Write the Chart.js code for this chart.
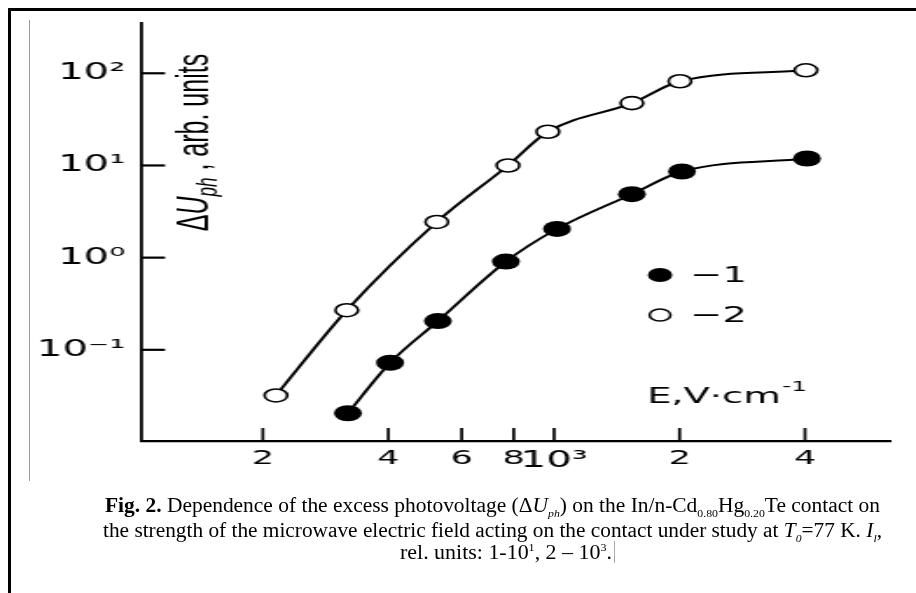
<!DOCTYPE html>
<html lang="en">
<head>
<meta charset="UTF-8">
<title>Fig. 2 - excess photovoltage vs microwave field</title>
<script src="https://cdn.jsdelivr.net/npm/chart.js"></script>
<style>
  html, body { margin: 0; padding: 0; background: #fff; overflow: hidden; }
  body { width: 916px; height: 593px; position: relative; }
  #frame { position: absolute; left: 8px; top: 8px; width: 1000px; height: 700px; border-left: 3px solid #000; border-top: 3px solid #000; }
  #rule { position: absolute; left: 29px; top: 20px; width: 1px; height: 461px; background: #9a9a9a; }
  #plot { position: absolute; left: 0; top: 0; transform: scaleX(1.748); transform-origin: 0 0; }
  .cap { position: absolute; white-space: nowrap; font-family: 'Liberation Serif', 'Times New Roman', serif; font-size: 20px; line-height: 22px; color: #000; transform-origin: 0 0; }
  .cap sub, .cap sup { font-size: 11px; line-height: 0; }
  #mark { position: absolute; left: 614px; top: 541px; width: 1px; height: 22px; background: #aaa; }
</style>
</head>
<body>
<div id="frame"></div>
<div id="rule"></div>
<canvas id="plot" width="524" height="500"></canvas>
<div class="cap" id="cap1" style="left:105px; top:494px;"><b>Fig. 2.</b> Dependence of the excess photovoltage (Δ<i>U<sub>ph</sub></i>) on the In/n-Cd<sub>0.80</sub>Hg<sub>0.20</sub>Te contact on</div>
<div class="cap" id="cap2" style="left:103px; top:519px;">the strength of the microwave electric field acting on the contact under study at <i>T<sub>0</sub></i>=77 K. <i>I<sub>l</sub></i>,</div>
<div class="cap" id="cap3" style="left:400px; top:541px;">rel. units: 1-10<sup>1</sup>, 2 – 10<sup>3</sup>.</div>
<div id="mark"></div>
<script>
// curve 1 (filled circles) and curve 2 (open circles), E in V/cm
const fieldE1 = [320, 404, 526, 766, 1016, 1537, 2027, 4045];
const deltaU1 = [0.0205, 0.0724, 0.205, 0.906, 2.05, 4.88, 8.6, 11.9];
const fieldE2 = [215, 318, 523, 775, 966, 1537, 2004, 4021];
const deltaU2 = [0.032, 0.269, 2.44, 10.0, 23.2, 47.5, 82, 107.7];

const xTickValues = [200, 400, 600, 800, 1000, 2000, 4000];
const xTickLabels = ['2', '4', '6', '8', '10³', '2', '4'];
const yTickValues = [0.1, 1, 10, 100];
const yTickLabels = ['10⁻¹', '10⁰', '10¹', '10²'];
const legendLabels = ['−1', '−2'];

// the figure is stretched sideways, canvas is drawn narrow then scaled
const S = 1.748;

Chart.defaults.font.family = "'DejaVu Sans', Verdana, sans-serif";
Chart.defaults.color = '#000';

function toPoints(xs, ys) {
  return xs.map((x, i) => ({ x: x, y: ys[i] }));
}

function drawRuns(ctx, runs) {
  let total = 0;
  runs.forEach(r => { ctx.font = r.font; r.w = ctx.measureText(r.text).width; total += r.w; });
  let x = -total / 2;
  runs.forEach(r => { ctx.font = r.font; ctx.fillText(r.text, x, r.dy || 0); x += r.w; });
}

const extras = {
  id: 'extras',
  afterDraw(chart) {
    const ctx = chart.ctx;
    const xs = chart.scales.x, ys = chart.scales.y;
    const a = chart.chartArea;
    ctx.save();
    ctx.strokeStyle = '#000';
    ctx.fillStyle = '#000';

    // inward tick marks
    ctx.lineWidth = 1.7;
    xTickValues.forEach(v => {
      const px = xs.getPixelForValue(v);
      ctx.beginPath(); ctx.moveTo(px, a.bottom); ctx.lineTo(px, a.bottom - 13); ctx.stroke();
    });
    ctx.lineWidth = 2.2;
    yTickValues.forEach(v => {
      const py = ys.getPixelForValue(v);
      ctx.beginPath(); ctx.moveTo(a.left, py); ctx.lineTo(a.left + 24 / S, py); ctx.stroke();
    });

    // y axis title, rotated
    ctx.save();
    ctx.translate(119, 142.5);
    ctx.rotate(-Math.PI / 2);
    ctx.textAlign = 'left';
    ctx.textBaseline = 'alphabetic';
    drawRuns(ctx, [
      { text: 'Δ', font: "25px 'Liberation Sans', Arial, sans-serif" },
      { text: 'U', font: "italic 25px 'Liberation Sans', Arial, sans-serif" },
      { text: 'ph', font: "italic 17px 'Liberation Sans', Arial, sans-serif", dy: 5 },
      { text: ' , arb. units', font: "25px 'Liberation Sans', Arial, sans-serif" }
    ]);
    ctx.restore();

    // legend
    const lx = 660 / S;
    ctx.beginPath(); ctx.arc(lx, 275, 7, 0, Math.PI * 2); ctx.fill();
    ctx.beginPath(); ctx.arc(lx, 315, 6, 0, Math.PI * 2);
    ctx.fillStyle = '#fff'; ctx.fill();
    ctx.lineWidth = 1.5; ctx.stroke();
    ctx.fillStyle = '#000';
    ctx.font = "22px 'DejaVu Sans', Verdana, sans-serif";
    ctx.textAlign = 'left';
    ctx.textBaseline = 'middle';
    ctx.fillText(legendLabels[0], 690 / S, 276);
    ctx.fillText(legendLabels[1], 690 / S, 316);

    // x axis title
    ctx.textBaseline = 'alphabetic';
    const ex = 647 / S;
    ctx.fillText('E,V·cm', ex, 403);
    const w = ctx.measureText('E,V·cm').width;
    ctx.font = "14px 'DejaVu Sans', Verdana, sans-serif";
    ctx.fillText('-1', ex + w + 1, 391);
    ctx.restore();
  }
};

const ctx = document.getElementById('plot').getContext('2d');
const chart = new Chart(ctx, {
  type: 'line',
  data: {
    datasets: [
      {
        label: '1',
        data: toPoints(fieldE1, deltaU1),
        borderColor: '#000',
        borderWidth: 2,
        cubicInterpolationMode: 'monotone',
        pointRadius: 8,
        pointBackgroundColor: '#000',
        pointBorderColor: '#000',
        pointBorderWidth: 0,
        clip: false
      },
      {
        label: '2',
        data: toPoints(fieldE2, deltaU2),
        borderColor: '#000',
        borderWidth: 2,
        cubicInterpolationMode: 'monotone',
        pointRadius: 6.5,
        pointBackgroundColor: '#fff',
        pointBorderColor: '#000',
        pointBorderWidth: 1.6,
        clip: false
      }
    ]
  },
  options: {
    responsive: false,
    animation: false,
    devicePixelRatio: 1,
    layout: { padding: { left: 20.66, right: 14.27, top: 19, bottom: 19 } },
    plugins: { legend: { display: false }, tooltip: { enabled: false } },
    scales: {
      x: {
        type: 'logarithmic',
        min: 102,
        max: 6435,
        afterFit: s => { s.height = 40; },
        afterBuildTicks: s => { s.ticks = xTickValues.map(v => ({ value: v })); },
        border: { display: true, color: '#000', width: 2.2 },
        grid: { display: true, drawOnChartArea: false, drawTicks: false },
        ticks: {
          autoSkip: false,
          maxRotation: 0,
          padding: 6,
          color: '#000',
          font: c => ({ size: c.tick && c.tick.value === 1000 ? 23 : 20 }),
          callback: v => xTickLabels[xTickValues.indexOf(v)]
        }
      },
      y: {
        type: 'logarithmic',
        min: 0.01025,
        max: 353,
        afterFit: s => { s.width = 60; },
        afterBuildTicks: s => { s.ticks = yTickValues.map(v => ({ value: v })); },
        border: { display: true, color: '#000', width: 1.8 },
        grid: { display: true, drawOnChartArea: false, drawTicks: false },
        ticks: {
          autoSkip: false,
          padding: 9,
          color: '#000',
          font: { size: 23 },
          callback: v => yTickLabels[yTickValues.indexOf(v)]
        }
      }
    }
  },
  plugins: [extras]
});

// fit caption lines to the widths they have in the figure
const capWidths = { cap1: 775, cap2: 779, cap3: 212 };
function fitCaption() {
  Object.keys(capWidths).forEach(id => {
    const el = document.getElementById(id);
    el.style.transform = 'none';
    const w = el.getBoundingClientRect().width;
    el.style.transform = 'scaleX(' + (capWidths[id] / w) + ')';
  });
}
fitCaption();
if (document.fonts) document.fonts.ready.then(fitCaption);
</script>
</body>
</html>
